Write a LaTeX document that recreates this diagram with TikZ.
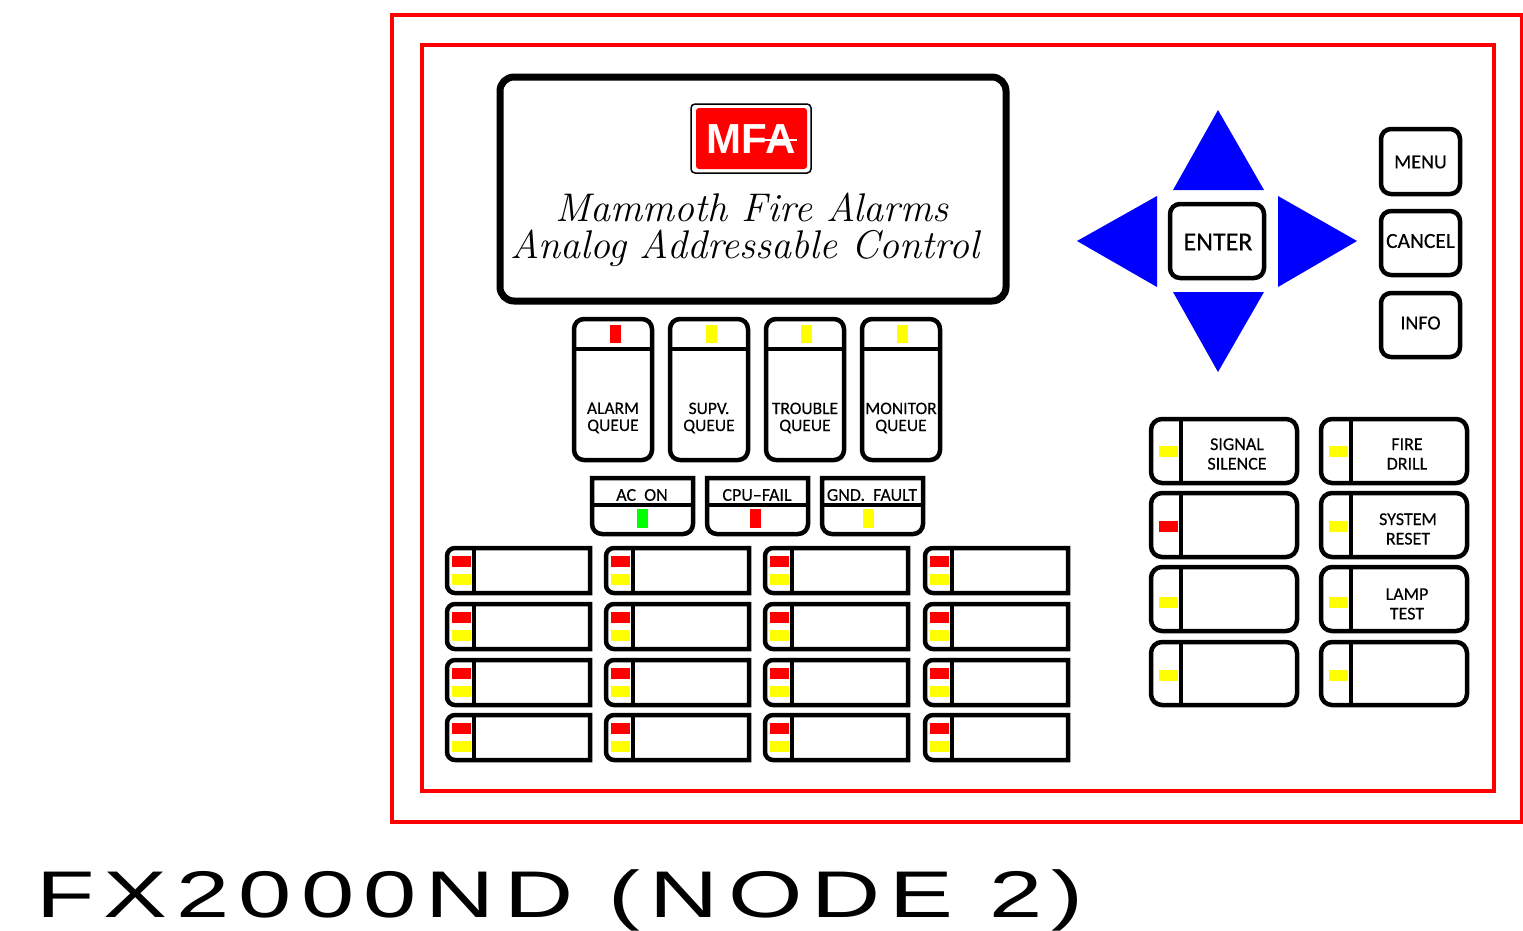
\documentclass[tikz,border=0pt]{standalone}
\usepackage{fontspec}
\newfontfamily\panelfont[FakeBold=0.25]{Carlito}
\newfontfamily\titlefont[LetterSpace=9.5]{Liberation Sans}
\newfontfamily\logofont{Liberation Sans}
\definecolor{ledyellow}{RGB}{255,255,0}
\tikzset{
  btn/.style={draw=black, line width=4.5pt, fill=white},
  lbl/.style={font=\panelfont\fontsize{18}{18}\selectfont, align=center, inner sep=0pt},
  arrowkey/.style={fill=blue},
  brandtxt/.style={inner sep=0pt, anchor=base, font=\fontsize{40}{40}\selectfont\itshape\addfontfeatures{LetterSpace=8,FakeBold=0.6}},
}
\begin{document}
\begin{tikzpicture}[x=1pt, y=-1pt]
    \useasboundingbox (0,0) rectangle (1523,930);
    \fill[white] (0,0) rectangle (1523,930);
    % housing
    \draw[red, line width=4pt] (392,15) rectangle (1522,822);
    \draw[red, line width=4pt] (422,45) rectangle (1494,791);
    % display
    \draw[line width=7pt, rounded corners=14pt] (500,77) rectangle (1006,301);
    \draw[line width=1.5pt, rounded corners=4pt] (691,104) rectangle (811,173);
    \fill[red, rounded corners=3pt] (696,108) rectangle (807,169);
    \node[white, inner sep=0pt, font=\logofont\bfseries\fontsize{42}{42}\selectfont] (logo) at (751,139) {MFA};
    \draw[white, line width=2pt] (logo.center) ++(3,1) -- ++(43,0);
    \node[brandtxt] (brand) at (752,221) {Mammoth Fire Alarms};
    \node[brandtxt] (model) at (745,258) {Analog Addressable Control};
    % arrow keys
    \fill[arrowkey] (1173,190) -- (1264,190) -- (1218,110) -- cycle;
    \fill[arrowkey] (1173,292) -- (1264,292) -- (1218,372) -- cycle;
    \fill[arrowkey] (1157,196) -- (1157,287) -- (1077,241) -- cycle;
    \fill[arrowkey] (1278,196) -- (1278,287) -- (1357,241) -- cycle;
    \draw[btn, rounded corners=10pt] (1170,204) rectangle (1264,278);
    \node[lbl, font=\panelfont\fontsize{26}{26}\selectfont] (enter) at (1218,242) {ENTER};
    % menu keys
    \foreach \name/\ya/\yb/\ty/\fs in {MENU/129/194/162/20, CANCEL/211/275/241/21.5, INFO/293/357/323/20} {
        \draw[btn, rounded corners=10pt] (1381,\ya) rectangle (1460,\yb);
        \node[lbl, font=\panelfont\fontsize{\fs}{\fs}\selectfont] (\name) at (1420.5,\ty) {\name};
    }
    % queue keys
    \foreach \x/\lx/\col/\txt/\tag in {574/610/red/ALARM/alarm, 670/706/ledyellow/SUPV./supv, 766/801/ledyellow/TROUBLE/trouble, 862/897/ledyellow/MONITOR/monitor} {
        \draw[btn, rounded corners=10pt] (\x,319) rectangle ++(78,141);
        \draw[line width=4.5pt] (\x,349) -- ++(78,0);
        \fill[\col] (\lx,325) rectangle ++(11,18);
        \node[lbl, font=\panelfont\fontsize{17.5}{17}\selectfont] (\tag) at (\x+39,418) {\txt\\QUEUE};
    }
    % status lamps
    \foreach \x/\lx/\col/\txt/\tag in {592/637/green/AC\ \ ON/acon, 707/750/red/CPU–FAIL/cpufail, 822/863/ledyellow/GND.\ \ FAULT/gnd} {
        \draw[btn] (\x,478) [rounded corners=10pt] -- (\x,534) -- (\x+101,534) [sharp corners] -- (\x+101,478) -- cycle;
        \draw[line width=4.5pt] (\x,505) -- ++(101,0);
        \fill[\col] (\lx,509) rectangle ++(11,19);
        \node[lbl] (\tag) at (\x+50,495) {\txt};
    }
    % zone keys
    \foreach \x in {447,606,765,925} {
        \foreach \y in {548,604,660,715} {
            \draw[btn] (\x+143,\y) [rounded corners=8pt] -- (\x,\y) -- (\x,\y+45) [sharp corners] -- (\x+143,\y+45) -- cycle;
            \draw[line width=4.5pt] (\x+27,\y) -- ++(0,45);
            \fill[red] (\x+5,\y+8) rectangle ++(19,11);
            \fill[ledyellow] (\x+5,\y+26) rectangle ++(19,11);
        }
    }
    % function keys
    \foreach \x/\y/\h/\ly/\col in {1151/419/64/446/ledyellow, 1151/493/64/521/red, 1151/567/64/597/ledyellow, 1151/642/63/670/ledyellow,
                                   1321/419/64/446/ledyellow, 1321/493/64/521/ledyellow, 1321/567/64/597/ledyellow, 1321/642/63/670/ledyellow} {
        \draw[btn, rounded corners=11pt] (\x,\y) rectangle ++(146,\h);
        \draw[line width=4.5pt] (\x+30,\y) -- ++(0,\h);
        \fill[\col] (\x+7.5,\ly) rectangle ++(19,11);
    }
    \node[lbl, font=\panelfont\fontsize{18}{19.5}\selectfont] (silence) at (1237,454) {SIGNAL\\SILENCE};
    \node[lbl, font=\panelfont\fontsize{18}{19.5}\selectfont] (drill) at (1407,454) {FIRE\\DRILL};
    \node[lbl, font=\panelfont\fontsize{18}{19.5}\selectfont] (reset) at (1408,529) {SYSTEM\\RESET};
    \node[lbl, font=\panelfont\fontsize{18}{19.5}\selectfont] (lamp) at (1407,604) {LAMP\\TEST};
    % model name
    \node[inner sep=0pt, anchor=base west, xscale=1.45, transform shape, font=\titlefont\fontsize{66}{66}\selectfont] (title) at (36,917) {FX2000ND (NODE 2)};
\end{tikzpicture}
\end{document}
